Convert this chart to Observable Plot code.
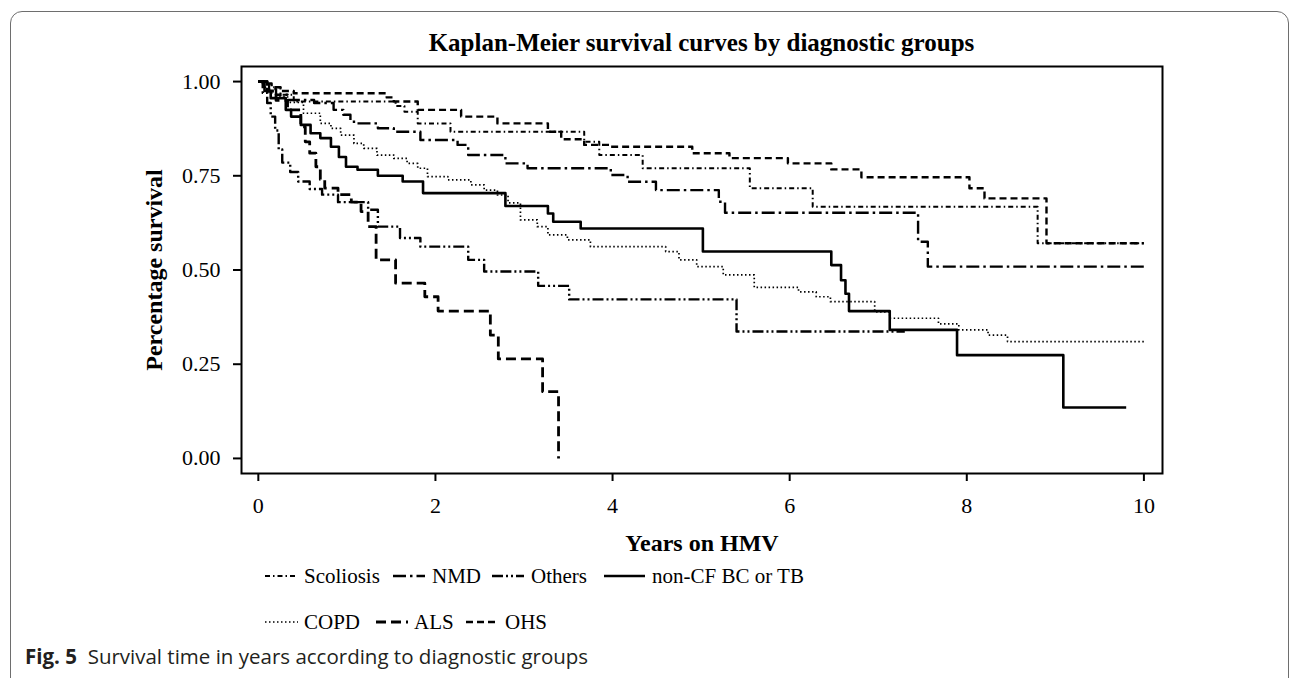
<!DOCTYPE html>
<html><head><meta charset="utf-8">
<script src="https://cdn.jsdelivr.net/npm/d3@7"></script>
<script src="https://cdn.jsdelivr.net/npm/@observablehq/plot@0.6"></script>
<style>
body{margin:0;background:#fff;}
#wrap{position:relative;width:1292px;height:678px;overflow:hidden;background:#fff;font-family:"Liberation Serif","Times New Roman",serif;color:#000;}
#border{position:absolute;left:10px;top:11px;width:1279px;height:700px;border:1.5px solid #6e6e6e;border-radius:12px;box-sizing:border-box;}
#title{position:absolute;left:241px;width:921px;top:29px;text-align:center;font-weight:bold;font-size:25px;line-height:28px;}
#chart{position:absolute;left:0;top:0;}
.leg-line{position:absolute;}
.leg-text{position:absolute;font-size:21px;line-height:24px;white-space:nowrap;}
#caption{position:absolute;left:25px;top:644px;font-family:"Open Sans",sans-serif;font-size:20.5px;line-height:24px;color:#231f20;white-space:nowrap;}
</style></head>
<body>
<div id="wrap">
  <div id="border"></div>
  <div id="title">Kaplan-Meier survival curves by diagnostic groups</div>
  <div id="chart"></div>
  <div id="legend"></div>
  <div id="caption"><b>Fig. 5</b>&nbsp; Survival time in years according to diagnostic groups</div>
</div>
<script>
// ---- data ----
const groupNames = ["Scoliosis", "NMD", "Others", "non-CF BC or TB", "COPD", "ALS", "OHS"];
const xTicks = [0, 2, 4, 6, 8, 10];
const yTicks = [0, 0.25, 0.5, 0.75, 1.0];

const scoliosisTime = [0, 0.12, 0.25, 0.4, 1.55, 1.65, 1.8, 2.17, 3.68, 3.85, 4.34, 5.55, 6.26, 8.8, 10.0];
const scoliosisSurv = [1, 0.985, 0.965, 0.947, 0.935, 0.92, 0.889, 0.867, 0.84, 0.805, 0.77, 0.717, 0.668, 0.571, 0.571];

const nmdTime = [0, 0.1, 0.2, 0.33, 0.63, 0.85, 0.96, 1.04, 1.08, 1.35, 1.53, 1.83, 2.25, 2.37, 2.79, 3.04, 3.98, 4.17, 4.49, 5.2, 5.27, 7.45, 7.56, 10.0];
const nmdSurv = [1, 0.98, 0.965, 0.951, 0.943, 0.925, 0.912, 0.898, 0.889, 0.876, 0.867, 0.845, 0.832, 0.805, 0.783, 0.77, 0.752, 0.734, 0.712, 0.681, 0.652, 0.575, 0.509, 0.509];

const othersTime = [0, 0.05, 0.1, 0.14, 0.19, 0.23, 0.27, 0.36, 0.45, 0.58, 0.72, 0.9, 1.24, 1.35, 1.6, 1.83, 2.37, 2.55, 3.16, 3.51, 5.4, 7.3];
const othersSurv = [1, 0.97, 0.943, 0.907, 0.87, 0.82, 0.785, 0.76, 0.735, 0.715, 0.70, 0.68, 0.66, 0.615, 0.585, 0.562, 0.527, 0.496, 0.458, 0.422, 0.337, 0.337];

const noncfTime = [0, 0.07, 0.14, 0.31, 0.37, 0.48, 0.59, 0.70, 0.82, 0.91, 0.99, 1.12, 1.35, 1.63, 1.86, 2.79, 3.27, 3.33, 3.64, 5.02, 6.47, 6.58, 6.63, 6.67, 7.13, 7.89, 9.09, 9.8];
const noncfSurv = [1, 0.975, 0.956, 0.925, 0.907, 0.885, 0.863, 0.85, 0.827, 0.80, 0.774, 0.766, 0.75, 0.735, 0.704, 0.67, 0.65, 0.628, 0.61, 0.549, 0.513, 0.473, 0.437, 0.391, 0.341, 0.274, 0.135, 0.135];

const copdTime = [0, 0.05, 0.12, 0.2, 0.33, 0.51, 0.70, 0.82, 0.93, 1.08, 1.19, 1.34, 1.53, 1.68, 1.80, 1.91, 2.14, 2.40, 2.55, 2.70, 2.82, 2.96, 3.15, 3.27, 3.49, 3.75, 4.6, 4.75, 4.95, 5.25, 5.6, 6.1, 6.3, 6.46, 6.96, 7.13, 7.68, 7.91, 8.24, 8.46, 10.0];
const copdSurv = [1, 0.985, 0.97, 0.96, 0.945, 0.916, 0.889, 0.876, 0.858, 0.836, 0.823, 0.805, 0.796, 0.783, 0.77, 0.748, 0.739, 0.726, 0.712, 0.699, 0.678, 0.633, 0.615, 0.593, 0.58, 0.562, 0.549, 0.527, 0.509, 0.487, 0.454, 0.442, 0.429, 0.416, 0.389, 0.372, 0.357, 0.341, 0.327, 0.31, 0.31];

const alsTime = [0, 0.1, 0.2, 0.33, 0.48, 0.53, 0.58, 0.65, 0.7, 0.75, 0.9, 1.05, 1.16, 1.24, 1.33, 1.55, 1.88, 2.03, 2.62, 2.71, 3.21, 3.39];
const alsSurv = [1, 0.975, 0.95, 0.925, 0.88, 0.84, 0.81, 0.774, 0.74, 0.717, 0.70, 0.68, 0.655, 0.615, 0.527, 0.465, 0.429, 0.391, 0.327, 0.264, 0.177, 0];

const ohsTime = [0, 0.05, 0.15, 0.25, 0.4, 1.45, 1.53, 1.8, 2.29, 2.7, 3.27, 3.42, 3.68, 3.98, 4.9, 5.32, 5.98, 6.47, 6.81, 8.03, 8.2, 8.9, 10.0];
const ohsSurv = [1, 0.995, 0.985, 0.975, 0.969, 0.958, 0.947, 0.925, 0.907, 0.889, 0.867, 0.847, 0.832, 0.827, 0.81, 0.797, 0.783, 0.767, 0.746, 0.717, 0.69, 0.571, 0.571];

// ---- build table ----
const seriesData = {
  "Scoliosis": [scoliosisTime, scoliosisSurv],
  "NMD": [nmdTime, nmdSurv],
  "Others": [othersTime, othersSurv],
  "non-CF BC or TB": [noncfTime, noncfSurv],
  "COPD": [copdTime, copdSurv],
  "ALS": [alsTime, alsSurv],
  "OHS": [ohsTime, ohsSurv]
};
const lineStyle = {
  "Scoliosis": {dash: "5,3,1.5,3", w: 2},
  "NMD": {dash: "13,4,2.5,4", w: 2.4},
  "Others": {dash: "11,3,2,3,2,3", w: 2.4},
  "non-CF BC or TB": {dash: null, w: 2.6},
  "COPD": {dash: "1.5,2.5", w: 1.7},
  "ALS": {dash: "10,5", w: 2.8},
  "OHS": {dash: "7,4", w: 2.4}
};

const rows = [];
for (const g of groupNames) {
  const [t, s] = seriesData[g];
  t.forEach((ti, i) => rows.push({group: g, time: ti, surv: s[i]}));
}

const lineMarks = groupNames.map(g => Plot.line(rows.filter(d => d.group === g), {
  x: "time", y: "surv", curve: "step-after", stroke: "black",
  strokeWidth: lineStyle[g].w,
  strokeDasharray: lineStyle[g].dash || undefined,
  strokeLinecap: "butt"
}));

const chart = Plot.plot({
  width: 1292, height: 560,
  marginLeft: 241, marginRight: 130, marginTop: 66, marginBottom: 87,
  x: {domain: [-0.19, 10.21]},
  y: {domain: [-0.04, 1.04]},
  style: {fontFamily: "'Liberation Serif', 'Times New Roman', serif", fontSize: "22px", color: "black", background: "transparent", overflow: "visible"},
  marks: [
    ...lineMarks,
    Plot.frame({stroke: "black", strokeWidth: 2}),
    Plot.axisX({ticks: xTicks, tickSize: 8, tickPadding: 16, label: null, tickFormat: d3.format("d"), fontSize: 22, strokeWidth: 2}),
    Plot.axisY({ticks: yTicks, tickSize: 8, tickPadding: 13, label: null, tickFormat: d3.format(".2f"), fontSize: 22, strokeWidth: 2}),
    Plot.text(["Years on HMV"], {frameAnchor: "bottom", dy: 70, fontWeight: "bold", fontSize: 24, textAnchor: "middle", lineAnchor: "middle"}),
    Plot.text(["Percentage survival"], {frameAnchor: "left", dx: -87, rotate: -90, fontWeight: "bold", fontSize: 24, textAnchor: "middle", lineAnchor: "middle"})
  ]
});
document.getElementById("chart").appendChild(chart);

// ---- legend ----
const legendPos = {
  "Scoliosis": {x1: 265, x2: 298, tx: 304, y: 576},
  "NMD": {x1: 393, x2: 425, tx: 432, y: 576},
  "Others": {x1: 492, x2: 524, tx: 531, y: 576},
  "non-CF BC or TB": {x1: 604, x2: 645, tx: 652, y: 576},
  "COPD": {x1: 265, x2: 298, tx: 304, y: 622},
  "ALS": {x1: 376, x2: 408, tx: 414, y: 622},
  "OHS": {x1: 466, x2: 498, tx: 505, y: 622}
};
const legend = document.getElementById("legend");
for (const g of groupNames) {
  const p = legendPos[g];
  const st = lineStyle[g];
  const len = p.x2 - p.x1;
  const ln = document.createElement("div");
  ln.className = "leg-line";
  ln.style.left = p.x1 + "px";
  ln.style.top = (p.y - 5) + "px";
  ln.innerHTML = `<svg width="${len}" height="10" style="display:block"><line x1="0" y1="5" x2="${len}" y2="5" stroke="black" stroke-width="${st.w}" ${st.dash ? `stroke-dasharray="${st.dash}"` : ""}/></svg>`;
  legend.appendChild(ln);
  const tx = document.createElement("div");
  tx.className = "leg-text";
  tx.style.left = p.tx + "px";
  tx.style.top = (p.y - 12) + "px";
  tx.textContent = g;
  legend.appendChild(tx);
}
</script>
</body></html>
